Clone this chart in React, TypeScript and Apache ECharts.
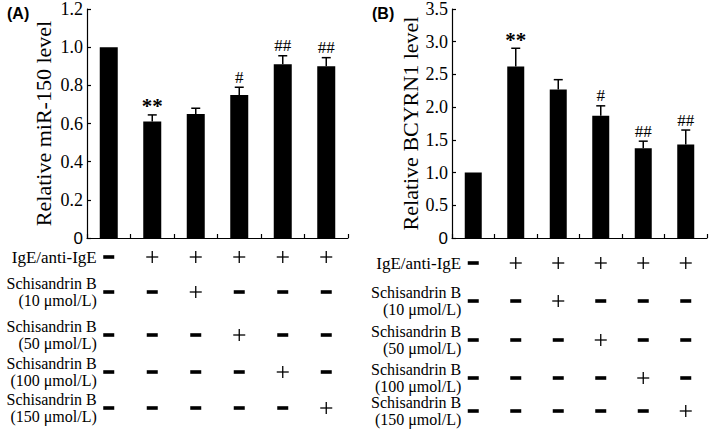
import React, { useEffect, useRef } from "react";
import * as echarts from "echarts";

const categories = ["G1", "G2", "G3", "G4", "G5", "G6"];
const mirValues = [1.0, 0.61, 0.65, 0.75, 0.91, 0.9];
const mirErrors = [0, 0.035, 0.03, 0.04, 0.045, 0.045];
const mirMarks = ["", "**", "", "#", "##", "##"];
const bcyValues = [1.0, 2.62, 2.27, 1.87, 1.37, 1.43];
const bcyErrors = [0, 0.28, 0.15, 0.15, 0.11, 0.22];
const bcyMarks = ["", "**", "", "#", "##", "##"];
const mirAxis = [0, 1.2, 0.2]; // min, max, interval
const bcyAxis = [0, 3.5, 0.5];
const mirName = "Relative miR-150 level";
const bcyName = "Relative BCYRN1 level";
const rowLabels = [
  "IgE/anti-IgE",
  "Schisandrin B\n(10 \u03bcmol/L)",
  "Schisandrin B\n(50 \u03bcmol/L)",
  "Schisandrin B\n(100 \u03bcmol/L)",
  "Schisandrin B\n(150 \u03bcmol/L)",
];
const treatments = [
  [false, true, true, true, true, true],
  [false, false, true, false, false, false],
  [false, false, false, true, false, false],
  [false, false, false, false, true, false],
  [false, false, false, false, false, true],
];

const SERIF = "Liberation Serif";
const SANS = "Liberation Sans";

function errorSeries(idx: number, values: number[], errors: number[], marks: string[]) {
  return {
    type: "custom",
    xAxisIndex: idx,
    yAxisIndex: idx,
    z: 5,
    encode: { x: 0, y: 1 },
    data: values.map((v, i) => [i, v, errors[i]]),
    renderItem: (params: any, api: any) => {
      const i = params.dataIndex;
      const c = api.value(0);
      const v = api.value(1);
      const e = api.value(2);
      const base = api.coord([c, v]);
      const top = api.coord([c, v + e]);
      const children: any[] = [];
      if (e > 0) {
        children.push({
          type: "line",
          shape: { x1: base[0], y1: base[1], x2: top[0], y2: top[1] },
          style: { stroke: "#000", lineWidth: 1.5 },
        });
        children.push({
          type: "line",
          shape: { x1: top[0] - 4.5, y1: top[1], x2: top[0] + 4.5, y2: top[1] },
          style: { stroke: "#000", lineWidth: 1.5 },
        });
      }
      const mark = marks[i];
      if (mark) {
        const star = mark.indexOf("*") >= 0;
        children.push({
          type: "text",
          x: top[0],
          y: top[1] - (star ? 8.5 : 10),
          style: {
            text: mark,
            fontFamily: SERIF,
            fontSize: star ? 21 : 17,
            fontWeight: star ? "bold" : "normal",
            fill: "#000",
            align: "center",
            verticalAlign: "middle",
          },
        });
      }
      return { type: "group", children };
    },
  };
}

function yAxisCfg(idx: number, range: number[], name: string, gap: number) {
  return {
    type: "value",
    gridIndex: idx,
    min: range[0],
    max: range[1],
    interval: range[2],
    name,
    nameLocation: "middle",
    nameGap: gap,
    nameTextStyle: { fontFamily: SERIF, fontSize: 22, color: "#000" },
    axisLine: { show: true, lineStyle: { color: "#000", width: 1.2 } },
    axisTick: { show: true, inside: true, length: 4, lineStyle: { color: "#000", width: 1.2 } },
    splitLine: { show: false },
    axisLabel: {
      margin: 4,
      fontFamily: SERIF,
      fontSize: 18,
      color: "#000",
      formatter: (v: number) => (v === 0 ? "{s|0}" : "{n|" + v.toFixed(1) + "}"),
      rich: {
        s: { fontFamily: SANS, fontSize: 17, color: "#000" },
        n: { fontFamily: SERIF, fontSize: 18, color: "#000" },
      },
    },
  };
}

function xAxisCfg(idx: number) {
  return {
    type: "category",
    gridIndex: idx,
    data: categories,
    axisLine: { show: true, lineStyle: { color: "#000", width: 1.2 } },
    axisTick: { show: true, inside: true, length: 4, alignWithLabel: false, lineStyle: { color: "#000", width: 1.2 } },
    axisLabel: { show: false },
    splitLine: { show: false },
  };
}

export default function App() {
  const ref = useRef<HTMLDivElement>(null);
  useEffect(() => {
    document.body.style.margin = "0";
    if (!ref.current) return;
    const chart = echarts.init(ref.current, null, { renderer: "svg" });
    const option: any = {
      animation: false,
      backgroundColor: "#fff",
      grid: [
        { left: 87, top: 5, width: 261, height: 233 },
        { left: 452, top: 8, width: 255, height: 230 },
      ],
      xAxis: [xAxisCfg(0), xAxisCfg(1)],
      yAxis: [yAxisCfg(0, mirAxis, mirName, 33), yAxisCfg(1, bcyAxis, bcyName, 29)],
      series: [
        { type: "bar", xAxisIndex: 0, yAxisIndex: 0, data: mirValues, barWidth: 18, itemStyle: { color: "#000" } },
        { type: "bar", xAxisIndex: 1, yAxisIndex: 1, data: bcyValues, barWidth: 17, itemStyle: { color: "#000" } },
        errorSeries(0, mirValues, mirErrors, mirMarks),
        errorSeries(1, bcyValues, bcyErrors, bcyMarks),
      ],
    };
    chart.setOption(option);

    const rowYs = [
      [257, 292, 335, 372, 408],
      [263, 301, 340, 378, 411],
    ];
    const graphics: any[] = [
      {
        type: "text",
        x: 7,
        y: 5,
        style: { text: "(A)", fontFamily: SANS, fontWeight: "bold", fontSize: 16, fill: "#000" },
      },
      {
        type: "text",
        x: 372,
        y: 5,
        style: { text: "(B)", fontFamily: SANS, fontWeight: "bold", fontSize: 16, fill: "#000" },
      },
    ];
    [0, 1].forEach((axis) => {
      const xs = categories.map((_, i) => {
        const p: any = chart.convertToPixel({ xAxisIndex: axis } as any, i);
        return Array.isArray(p) ? p[0] : p;
      });
      const labelX = xs[0] - 12;
      rowLabels.forEach((label, r) => {
        const y = rowYs[axis][r];
        graphics.push({
          type: "text",
          x: labelX,
          y,
          style: {
            text: label,
            fontFamily: SERIF,
            fontSize: r === 0 ? 17 : 16,
            lineHeight: 16.5,
            fill: "#000",
            align: "right",
            verticalAlign: "middle",
          },
        });
        treatments[r].forEach((on, i) => {
          if (on) {
            graphics.push({
              type: "line",
              shape: { x1: xs[i] - 6, y1: y, x2: xs[i] + 6, y2: y },
              style: { stroke: "#000", lineWidth: 1.3 },
            });
            graphics.push({
              type: "line",
              shape: { x1: xs[i], y1: y - 6, x2: xs[i], y2: y + 6 },
              style: { stroke: "#000", lineWidth: 1.3 },
            });
          } else {
            graphics.push({
              type: "rect",
              shape: { x: xs[i] - 5.5, y: y - 1.8, width: 11, height: 3.6 },
              style: { fill: "#000" },
            });
          }
        });
      });
    });
    chart.setOption({ graphic: graphics });
    return () => chart.dispose();
  }, []);
  return <div ref={ref} style={{ width: 709, height: 429 }} />;
}
